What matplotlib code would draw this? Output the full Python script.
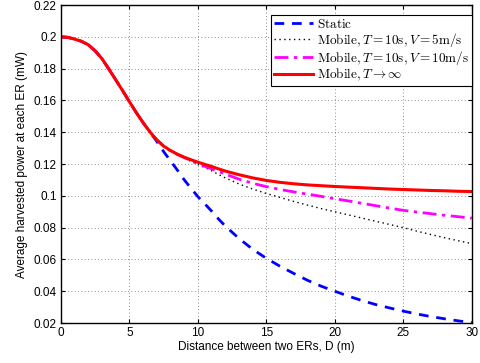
import matplotlib
matplotlib.use("Agg")
import matplotlib.pyplot as plt

plt.rcParams['font.family'] = ['Liberation Sans', 'DejaVu Sans']
plt.rcParams['mathtext.fontset'] = 'cm'

# Distancia D (m): passo 0.5 ate 12, depois passo 1
dist = [0, 0.5, 1, 1.5, 2, 2.5, 3, 3.5, 4, 4.5, 5, 5.5, 6, 6.5, 7, 7.5, 8, 8.5, 9, 9.5,
        10, 10.5, 11, 11.5, 12, 13, 14, 15, 16, 17, 18, 19, 20, 21, 22, 23, 24, 25, 26,
        27, 28, 29, 30]

estatico = [0.2, 0.1997, 0.1986, 0.1972, 0.195, 0.1912, 0.1862, 0.1797, 0.173, 0.1662,
            0.1592, 0.1524, 0.146, 0.1402, 0.1342, 0.1278, 0.122, 0.1162, 0.1101, 0.1047,
            0.0995, 0.095, 0.0904, 0.0855, 0.081, 0.0732, 0.0664, 0.0607, 0.0557, 0.0512,
            0.0469, 0.0432, 0.04, 0.0369, 0.0341, 0.0316, 0.0295, 0.0275, 0.0257, 0.0241,
            0.0227, 0.0214, 0.0202]

movel_v5 = [0.2, 0.1997, 0.1986, 0.1972, 0.195, 0.1912, 0.1862, 0.1797, 0.173, 0.1662,
            0.1592, 0.1524, 0.146, 0.1402, 0.1351, 0.1311, 0.1283, 0.126, 0.1238, 0.1217,
            0.1197, 0.1178, 0.1158, 0.1135, 0.1113, 0.1075, 0.1043, 0.1015, 0.099, 0.0965,
            0.0942, 0.092, 0.09, 0.088, 0.086, 0.084, 0.082, 0.08, 0.0778, 0.0757,
            0.0737, 0.0718, 0.07]

movel_v10 = [0.2, 0.1997, 0.1986, 0.1972, 0.195, 0.1912, 0.1862, 0.1797, 0.173, 0.1662,
             0.1592, 0.1524, 0.146, 0.1402, 0.1352, 0.1312, 0.1284, 0.1261, 0.1241, 0.1222,
             0.1203, 0.1186, 0.117, 0.1154, 0.1137, 0.1105, 0.1079, 0.1058, 0.104, 0.1025,
             0.1011, 0.0997, 0.0982, 0.0968, 0.0953, 0.0938, 0.0923, 0.0909, 0.0898, 0.0888,
             0.0878, 0.0869, 0.086]

movel_inf = [0.2, 0.1997, 0.1986, 0.1972, 0.195, 0.1912, 0.1862, 0.1797, 0.173, 0.1662,
             0.1592, 0.1524, 0.146, 0.1402, 0.1352, 0.1313, 0.1285, 0.1262, 0.1243, 0.1227,
             0.1212, 0.1198, 0.1185, 0.117, 0.1156, 0.1133, 0.1113, 0.1097, 0.1085, 0.1076,
             0.1069, 0.1064, 0.1059, 0.1055, 0.1051, 0.1047, 0.1043, 0.104, 0.1037, 0.1034,
             0.1032, 0.1029, 0.1027]

fig = plt.figure(figsize=(4.8, 3.63), dpi=100)
ax = fig.add_axes([0.127, 0.110, 0.856, 0.876])

ax.plot(dist, estatico, color='blue', linestyle=(0, (3.5, 2.8)), linewidth=2,
        label=r'$\mathrm{Static}$')
ax.plot(dist, movel_v5, color='black', linestyle=(0, (1, 2.5)), linewidth=1,
        label=r'$\mathrm{Mobile,}T=10\mathrm{s,}V=5\mathrm{m/s}$')
ax.plot(dist, movel_v10, color='magenta', linestyle=(0, (5, 2, 1.2, 2)), linewidth=2,
        label=r'$\mathrm{Mobile,}T=10\mathrm{s,}V=10\mathrm{m/s}$')
ax.plot(dist, movel_inf, color='red', linewidth=2.2,
        label=r'$\mathrm{Mobile,}T\rightarrow\infty$')

ax.set_xlim(0, 30)
ax.set_ylim(0.02, 0.22)
ax.set_xticks([0, 5, 10, 15, 20, 25, 30])
ax.set_yticks([0.02, 0.04, 0.06, 0.08, 0.1, 0.12, 0.14, 0.16, 0.18, 0.2, 0.22])
ax.set_yticklabels(['0.02', '0.04', '0.06', '0.08', '0.1', '0.12', '0.14', '0.16',
                    '0.18', '0.2', '0.22'])
ax.tick_params(direction='in', top=True, right=True, labelsize=8.5, length=3, pad=3)
ax.grid(True, linestyle=(0, (1, 3)), color='black', linewidth=0.6, alpha=0.6)
for s in ax.spines.values():
    s.set_linewidth(1.0)

ax.set_xlabel('Distance between two ERs, D (m)', fontsize=8.5, labelpad=1)
ax.set_ylabel('Average harvested power at each ER (mW)', fontsize=8.5, labelpad=4)

leg = ax.legend(loc='upper right', bbox_to_anchor=(1.0, 1 - 10 / 318), borderaxespad=0,
                fontsize=9.5, handlelength=3.0, fancybox=False, framealpha=1,
                edgecolor='black', labelspacing=0.0, borderpad=0.2, handletextpad=0.3)
leg.get_frame().set_linewidth(0.8)

plt.savefig('out.png', dpi=100)
